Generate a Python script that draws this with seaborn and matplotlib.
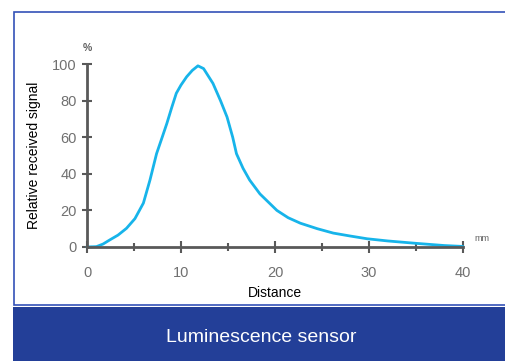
import matplotlib
matplotlib.use("Agg")
import matplotlib.pyplot as plt
import seaborn as sns
import pandas as pd
from matplotlib.patches import Rectangle

# values
distance = [0, 1.0, 1.7, 2.4, 3.3, 4.2, 5.1, 6.0, 6.7, 7.4, 8.0, 8.5, 9.0, 9.5, 10.0, 10.6, 11.2,
            11.8, 12.4, 13.4, 14.2, 14.9, 15.5, 15.9, 16.6, 17.3, 18.4, 19.3, 20.2, 21.4,
            22.7, 24.5, 26.2, 28.0, 29.8, 32.0, 35.0, 38.0, 40.0]
signal = [0, 0.2, 1.6, 3.8, 6.5, 10.2, 15.5, 24, 36.6, 51, 60, 67.6, 76, 84, 88.5, 93, 96.5,
          99, 97.5, 89.4, 80, 71, 60, 51, 43, 36.6, 29, 24.5, 20, 16, 13, 10, 7.6, 6,
          4.5, 3.3, 2, 0.8, 0.3]
x_ticks = [0, 10, 20, 30, 40]
x_minor = [5, 15, 25, 35]
y_ticks = [0, 20, 40, 60, 80, 100]

df = pd.DataFrame({"Distance": distance, "Signal": signal})

sns.set_style("white")
plt.rcParams['font.family'] = ['Liberation Sans', 'DejaVu Sans']

fig = plt.figure(figsize=(5.06, 3.61), dpi=100)
W, H = 506, 361

# white panel with thin blue border, dark blue banner below
fig.patches.append(Rectangle((14 / W, 1 - 305 / H), 500 / W, 293 / H, transform=fig.transFigure,
                             facecolor="white", edgecolor="#3352b8", lw=1.2, zorder=0))
fig.patches.append(Rectangle((13 / W, 0), 500 / W, 54 / H, transform=fig.transFigure,
                             facecolor="#233f98", edgecolor="none", zorder=1))
fig.text(261 / W, 1 - 338 / H, "Luminescence sensor", color="white", fontsize=14,
         ha="center", va="center")

ax = fig.add_axes([87 / W, 1 - 247 / H, 376 / W, 183 / H])
ax.set_zorder(3)
ax.set_facecolor("none")
sns.lineplot(data=df, x="Distance", y="Signal", ax=ax, color="#17b4ea", lw=2, clip_on=False)

ax.set_xlim(0, 40)
ax.set_ylim(0, 100)
for s in ["top", "right"]:
    ax.spines[s].set_visible(False)
for s in ["left", "bottom"]:
    ax.spines[s].set_color("#595959")
    ax.spines[s].set_linewidth(2)

ax.set_xticks(x_ticks)
ax.set_xticks(x_minor, minor=True)
ax.set_yticks(y_ticks)
ax.tick_params(axis="both", which="both", bottom=True, left=True)
ax.tick_params(axis="both", which="major", direction="inout", length=8, width=1.5,
               color="#595959", labelcolor="#707070", labelsize=10.5)
ax.tick_params(axis="x", which="major", pad=10)
ax.tick_params(axis="y", which="major", pad=4, length=7)
ax.tick_params(axis="x", which="minor", direction="inout", length=6, width=1.5, color="#595959")

ax.set_xlabel("Distance", fontsize=10, color="black", labelpad=4)
ax.set_ylabel("Relative received signal", fontsize=10, color="black", labelpad=8)
ax.text(0, 106, "%", fontsize=7.5, color="#606060", ha="center", va="bottom",
        fontweight="bold", clip_on=False)
ax.text(42, 2, "mm", fontsize=6.5, color="#606060", ha="center", va="bottom", clip_on=False)

fig.savefig("out.png", dpi=100)
